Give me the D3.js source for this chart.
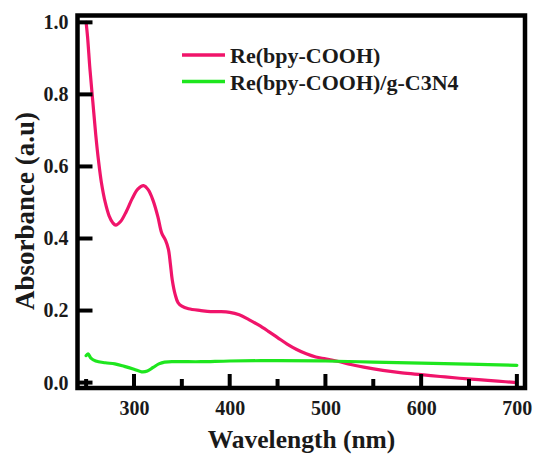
<!DOCTYPE html>
<html>
<head>
<meta charset="utf-8">
<script src="https://cdn.jsdelivr.net/npm/d3@7"></script>
<style>
  html, body { margin: 0; padding: 0; background: #fff; }
  svg { display: block; }
</style>
</head>
<body>
<svg id="chart" width="537" height="455"></svg>
<script>
// UV-Vis absorbance spectra
const seriesNames = ["Re(bpy-COOH)", "Re(bpy-COOH)/g-C3N4"];
const seriesColors = ["#f0146a", "#1ee61e"];

const reWavelength = [250, 251.5, 254, 257, 260, 263, 266, 270, 274, 278, 281, 286, 292, 298, 304, 310, 315, 320, 325, 329, 333, 336, 338, 340, 343, 346, 350, 357, 370, 380, 390, 400, 410, 420, 430, 440, 450, 460, 470, 480, 490, 500, 505, 515, 525, 540, 560, 580, 600, 620, 640, 660, 680, 700];
const reAbsorbance = [1.0, 0.96, 0.87, 0.78, 0.69, 0.615, 0.555, 0.50, 0.463, 0.443, 0.437, 0.447, 0.475, 0.51, 0.537, 0.547, 0.535, 0.505, 0.46, 0.415, 0.395, 0.37, 0.33, 0.285, 0.245, 0.222, 0.212, 0.205, 0.200, 0.197, 0.197, 0.195, 0.188, 0.175, 0.16, 0.143, 0.125, 0.107, 0.092, 0.08, 0.071, 0.066, 0.063, 0.058, 0.051, 0.043, 0.034, 0.027, 0.022, 0.017, 0.012, 0.008, 0.004, 0.0];

const cnWavelength = [250, 252, 255, 260, 270, 280, 290, 300, 308, 314, 320, 326, 332, 345, 370, 400, 450, 500, 550, 600, 650, 700];
const cnAbsorbance = [0.075, 0.08, 0.068, 0.06, 0.055, 0.052, 0.045, 0.037, 0.03, 0.032, 0.042, 0.052, 0.057, 0.058, 0.058, 0.06, 0.061, 0.06, 0.057, 0.054, 0.051, 0.048];

const xMajorTicks = [300, 400, 500, 600, 700];
const xMinorTicks = [250, 350, 450, 550, 650];
const yTicks = [0.0, 0.2, 0.4, 0.6, 0.8, 1.0];

const FONT = "'Liberation Serif', 'Times New Roman', serif";
const INK = "#1a1a1a";

const svg = d3.select("#chart");
const plotLeft = 77.5, plotRight = 525, plotTop = 15.5, plotBottom = 388;

const x = d3.scaleLinear().domain([241, 708.5]).range([plotLeft, plotRight]);
const y = d3.scaleLinear().domain([-0.015, 1.019]).range([plotBottom, plotTop]);

const series = [
  { name: seriesNames[0], color: seriesColors[0], pts: d3.zip(reWavelength, reAbsorbance) },
  { name: seriesNames[1], color: seriesColors[1], pts: d3.zip(cnWavelength, cnAbsorbance) }
];

const line = d3.line().x(d => x(d[0])).y(d => y(d[1])).curve(d3.curveCatmullRom.alpha(0.5));

// curves
svg.selectAll("path.spec").data(series).join("path")
  .attr("class", "spec")
  .attr("d", d => line(d.pts))
  .attr("fill", "none")
  .attr("stroke", d => d.color)
  .attr("stroke-width", 3.2)
  .attr("stroke-linejoin", "round")
  .attr("stroke-linecap", "round");

// inward ticks
const tickW = 4;
svg.append("g").selectAll("line").data(xMajorTicks).join("line")
  .attr("x1", d => x(d)).attr("x2", d => x(d))
  .attr("y1", plotBottom).attr("y2", plotBottom - 14)
  .attr("stroke", "#000").attr("stroke-width", tickW);
svg.append("g").selectAll("line").data(xMinorTicks).join("line")
  .attr("x1", d => x(d)).attr("x2", d => x(d))
  .attr("y1", plotBottom).attr("y2", plotBottom - 9)
  .attr("stroke", "#000").attr("stroke-width", tickW);
svg.append("g").selectAll("line").data(yTicks).join("line")
  .attr("x1", plotLeft).attr("x2", plotLeft + 15)
  .attr("y1", d => y(d)).attr("y2", d => y(d))
  .attr("stroke", "#000").attr("stroke-width", tickW);

// frame
svg.append("rect")
  .attr("x", plotLeft).attr("y", plotTop)
  .attr("width", plotRight - plotLeft).attr("height", plotBottom - plotTop)
  .attr("fill", "none").attr("stroke", "#000").attr("stroke-width", 4.5);

// tick labels
const xAxis = d3.axisBottom(x).tickValues(xMajorTicks).tickFormat(d3.format("d")).tickSize(0).tickPadding(13);
const gx = svg.append("g").attr("transform", `translate(0,${plotBottom})`).call(xAxis)
  .attr("font-family", FONT).attr("font-size", 20).attr("font-weight", "bold");
gx.select(".domain").remove();
gx.selectAll("text").attr("fill", INK);

const yAxis = d3.axisLeft(y).tickValues(yTicks).tickFormat(d3.format(".1f")).tickSize(0).tickPadding(9);
const gy = svg.append("g").attr("transform", `translate(${plotLeft},0)`).call(yAxis)
  .attr("font-family", FONT).attr("font-size", 20).attr("font-weight", "bold");
gy.select(".domain").remove();
gy.selectAll("text").attr("fill", INK);

// axis titles
svg.append("text")
  .attr("x", 301.5).attr("y", 448)
  .attr("text-anchor", "middle")
  .attr("font-family", FONT).attr("font-weight", "bold").attr("font-size", 25.5).attr("fill", INK)
  .text("Wavelength (nm)");
svg.append("text")
  .attr("transform", "translate(34,211) rotate(-90)")
  .attr("text-anchor", "middle")
  .attr("font-family", FONT).attr("font-weight", "bold").attr("font-size", 27).attr("fill", INK)
  .text("Absorbance (a.u)");

// legend
const legend = svg.append("g").selectAll("g").data(series).join("g")
  .attr("transform", (d, i) => `translate(182,${55 + i * 26.5})`);
legend.append("line")
  .attr("x1", 0).attr("x2", 43).attr("y1", 0).attr("y2", 0)
  .attr("stroke", d => d.color).attr("stroke-width", 3.5);
legend.append("text")
  .attr("x", 48).attr("y", 8)
  .attr("font-family", FONT).attr("font-weight", "bold").attr("font-size", 22).attr("fill", INK)
  .text(d => d.name);
</script>
</body>
</html>
